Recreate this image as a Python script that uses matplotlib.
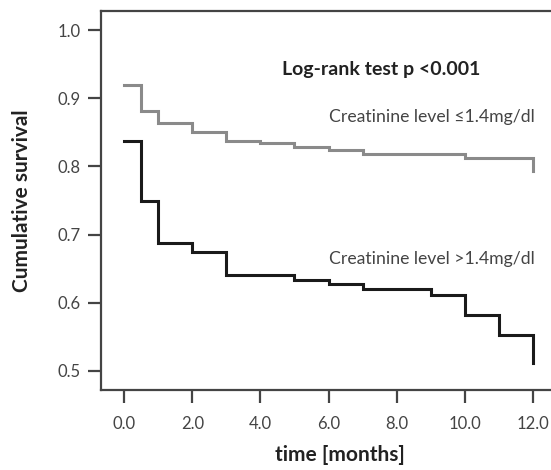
import numpy as np
import matplotlib.pyplot as plt

plt.rcParams['font.family'] = ['Lato', 'DejaVu Sans']

# Kaplan-Meier step data
t_low = [0, 0.5, 1, 2, 3, 4, 5, 6, 7, 10, 12]
s_low = [0.920, 0.881, 0.863, 0.851, 0.837, 0.834, 0.829, 0.824, 0.818, 0.812, 0.793]

t_high = [0, 0.5, 1, 2, 3, 5, 6, 7, 9, 10, 11, 12]
s_high = [0.837, 0.749, 0.688, 0.675, 0.641, 0.633, 0.627, 0.620, 0.611, 0.582, 0.553, 0.512]

xticks = [0, 2, 4, 6, 8, 10, 12]
yticks = [0.5, 0.6, 0.7, 0.8, 0.9, 1.0]

fig = plt.figure(figsize=(5.51, 4.70), dpi=100)
ax = fig.add_axes([101 / 551, 80 / 470, 450 / 551, 379 / 470])


def km_step(t, s):
    # horizontal to each time, then drop; final drop at last time
    xs, ys = [t[0]], [s[0]]
    for i in range(1, len(t)):
        xs += [t[i], t[i]]
        ys += [s[i - 1], s[i]]
    return xs, ys


x1, y1 = km_step(t_low, s_low)
x2, y2 = km_step(t_high, s_high)
ax.plot(x1, y1, color='#8a8a8a', lw=2.2, solid_joinstyle='miter')
ax.plot(x2, y2, color='#1a1a1a', lw=2.2, solid_joinstyle='miter')

ax.set_xlim(-0.68, 12.53)
ax.set_ylim(0.472, 1.028)
ax.set_xticks(xticks)
ax.set_xticklabels(['%.1f' % v for v in xticks])
ax.set_yticks(yticks)
ax.set_yticklabels(['%.1f' % v for v in yticks])

for side in ['left', 'bottom', 'top']:
    ax.spines[side].set_color('#444444')
    ax.spines[side].set_linewidth(1.6)
ax.spines['right'].set_visible(False)

ax.tick_params(axis='x', direction='out', length=9.5, width=1.6, color='#444444',
               labelsize=12, labelcolor='#444444', pad=9.5)
ax.tick_params(axis='y', direction='out', length=9.5, width=1.6, color='#444444',
               labelsize=12, labelcolor='#444444', pad=5)

ax.set_ylabel('Cumulative survival', fontsize=15, fontweight='bold', color='#222222', va='center')
ax.yaxis.set_label_coords(-0.1756, 0.5)
ax.set_xlabel('time [months]', fontsize=15, fontweight='bold', color='#222222', va='center')
ax.xaxis.set_label_coords(0.531, -0.1715)

ax.text(7.55, 0.942, 'Log-rank test p <0.001', fontsize=14, fontweight='bold',
        color='#222222', ha='center', va='center')
ax.text(12.05, 0.872, 'Creatinine level \u22641.4mg/dl', fontsize=12.7,
        color='#444444', ha='right', va='center')
ax.text(12.05, 0.664, 'Creatinine level >1.4mg/dl', fontsize=12.7,
        color='#444444', ha='right', va='center')

plt.savefig('out.png', dpi=100)
